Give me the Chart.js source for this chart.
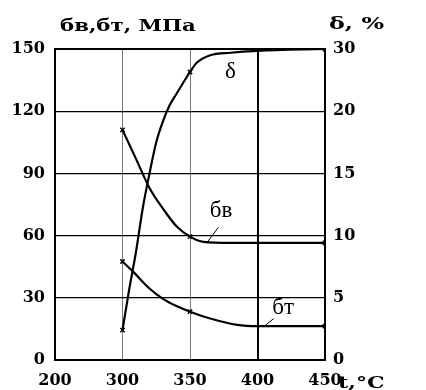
<!DOCTYPE html>
<html>
<head>
<meta charset="utf-8">
<script src="https://cdn.jsdelivr.net/npm/chart.js@4.4.0/dist/chart.umd.min.js"></script>
<style>
  html, body { margin: 0; padding: 0; background: #fff; }
  #wrap { width: 426px; height: 390px; }
</style>
</head>
<body>
<div id="wrap"><canvas id="chart" width="426" height="390"></canvas></div>
<script>
// x axis ticks (not evenly spaced in values, evenly spaced on paper)
const tempTicks = [200, 300, 350, 400, 450];
// left axis ticks, MPa
const stressTicks = [0, 30, 60, 90, 120, 150];
// right axis ticks, % (drawn next to the left gridlines)
const deltaTicks = [0, 5, 10, 15, 20, 30];

// elongation δ, %
const deltaTemps = [300, 305, 310, 315, 320, 325, 330, 335, 340, 350, 355, 365, 380, 400, 450];
const deltaVals  = [2.4, 5.7, 8.7, 12.2, 15, 17.5, 19.2, 21, 22.8, 26.3, 27.8, 29, 29.4, 29.7, 30];

// ultimate strength бв, MPa
const sbTemps = [300, 310, 320, 330, 340, 350, 360, 380, 400, 450];
const sbVals  = [111, 97, 83, 73, 64.5, 59.5, 57, 56.5, 56.5, 56.5];

// yield strength бт, MPa
const stTemps = [300, 308, 320, 330, 340, 350, 365, 385, 400, 450];
const stVals  = [47.5, 42.5, 34.5, 29.5, 26, 23.3, 20, 16.9, 16.3, 16.3];

// measured points get a small mark
const measured = [300, 350, 450];

// temperature -> position on the paper axis (0..4)
function tPos(t) {
    if (t <= 300) return (t - 200) / 100;
    return 1 + (t - 300) / 50;
}
// δ % -> left-scale position (right axis is not linear)
function dPos(d) {
    for (let i = 1; i < deltaTicks.length; i++) {
        if (d <= deltaTicks[i]) {
            const f = (d - deltaTicks[i - 1]) / (deltaTicks[i] - deltaTicks[i - 1]);
            return stressTicks[i - 1] + f * (stressTicks[i] - stressTicks[i - 1]);
        }
    }
    return stressTicks[stressTicks.length - 1];
}

function makeSet(temps, vals, conv) {
    return {
        data: temps.map((t, i) => ({ x: tPos(t), y: conv(vals[i]) })),
        borderColor: '#000',
        borderWidth: 2.2,
        cubicInterpolationMode: 'monotone',
        pointStyle: 'crossRot',
        pointRadius: temps.map(t => measured.includes(t) ? 3 : 0),
        pointBorderColor: '#000',
        pointBorderWidth: 1.5,
        fill: false
    };
}

const FONT = 'DejaVu Serif';

// stretched text, the scan is wider than tall
function wideText(c, txt, x, y, sx) {
    c.save();
    c.translate(x, y);
    c.scale(sx, 1);
    c.fillText(txt, 0, 0);
    c.restore();
}

// text on the chart: axis titles and curve labels
const labelsPlugin = {
    id: 'labels',
    afterDraw(chart) {
        const c = chart.ctx;
        const x = chart.scales.x, y = chart.scales.y;
        c.save();
        c.fillStyle = '#000';
        c.font = 'bold 17px "' + FONT + '"';
        c.textBaseline = 'alphabetic';
        c.textAlign = 'left';
        wideText(c, 'бв,бт, МПа', 60, 31, 1.25);
        wideText(c, 'δ, %', 329, 29, 1.4);
        wideText(c, 't,°C', 338, 388, 1.3);

        c.font = '23px "Liberation Serif"';
        c.textAlign = 'center';
        c.textBaseline = 'middle';
        c.fillText('δ', x.getPixelForValue(tPos(380)), y.getPixelForValue(139));
        c.fillText('бв', x.getPixelForValue(tPos(373)), y.getPixelForValue(72));
        c.fillText('бт', x.getPixelForValue(tPos(419)), y.getPixelForValue(25));

        // leader lines
        c.strokeStyle = '#000';
        c.lineWidth = 1;
        c.beginPath();
        c.moveTo(x.getPixelForValue(tPos(371)), y.getPixelForValue(64));
        c.lineTo(x.getPixelForValue(tPos(363)), y.getPixelForValue(57));
        c.moveTo(x.getPixelForValue(tPos(412)), y.getPixelForValue(20));
        c.lineTo(x.getPixelForValue(tPos(404.5)), y.getPixelForValue(16));
        c.stroke();
        c.restore();
    }
};

const tickFont = { family: FONT, weight: 'bold', size: 16 };

const ctx = document.getElementById('chart').getContext('2d');
const chart = new Chart(ctx, {
    type: 'line',
    data: {
        datasets: [
            makeSet(deltaTemps, deltaVals, dPos),
            makeSet(sbTemps, sbVals, v => v),
            makeSet(stTemps, stVals, v => v)
        ]
    },
    options: {
        responsive: false,
        animation: false,
        layout: { padding: { top: 49, left: 0, right: 0, bottom: 0 } },
        plugins: { legend: { display: false }, tooltip: { enabled: false } },
        scales: {
            x: {
                type: 'linear',
                min: 0,
                max: tempTicks.length - 1,
                afterBuildTicks: s => { s.ticks = tempTicks.map((t, i) => ({ value: i })); },
                afterFit: s => { s.height = 30; },
                ticks: {
                    callback: (v) => String(tempTicks[v]),
                    color: '#000',
                    font: tickFont,
                    padding: 11,
                    maxRotation: 0
                },
                grid: {
                    drawTicks: false,
                    color: c => (c.index === 1 || c.index === 2) ? '#777' : '#000',
                    lineWidth: c => (c.index === 1 || c.index === 2) ? 1 : 2
                },
                border: { color: '#000', width: 2 }
            },
            y: {
                position: 'left',
                min: 0,
                max: 150,
                afterBuildTicks: s => { s.ticks = stressTicks.map(v => ({ value: v })); },
                afterFit: s => { s.width = 55; },
                ticks: {
                    color: '#000',
                    font: tickFont,
                    padding: 10
                },
                grid: {
                    drawTicks: false,
                    color: '#000',
                    lineWidth: c => (c.tick.value === 150) ? 2 : 1.3
                },
                border: { color: '#000', width: 2 }
            },
            y1: {
                position: 'right',
                min: 0,
                max: 150,
                afterBuildTicks: s => { s.ticks = stressTicks.map(v => ({ value: v })); },
                afterFit: s => { s.width = 101; },
                ticks: {
                    callback: v => String(deltaTicks[stressTicks.indexOf(v)]),
                    color: '#000',
                    font: tickFont,
                    padding: 8
                },
                grid: { drawOnChartArea: false, drawTicks: false },
                border: { color: '#000', width: 2 }
            }
        }
    },
    plugins: [labelsPlugin]
});
</script>
</body>
</html>
